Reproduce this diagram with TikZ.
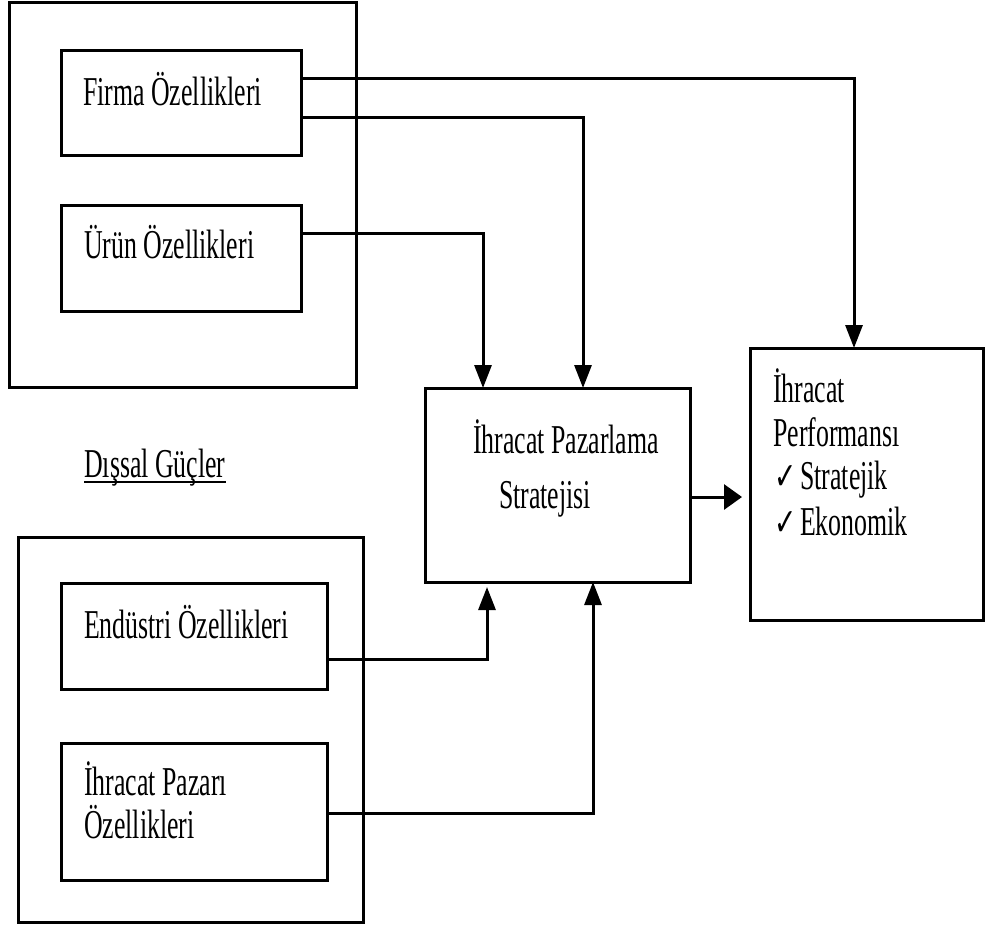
\documentclass[tikz,border=0pt]{standalone}
\usepackage{fontspec}
\setmainfont[FakeStretch=0.63]{Liberation Serif}
\newfontfamily\checkfont[FakeStretch=0.7]{DejaVu Sans}
\usetikzlibrary{arrows.meta}
\newcommand{\tick}{\makebox[26pt][l]{\checkfont\fontsize{38}{38}\selectfont ✓}}
\begin{document}
\begin{tikzpicture}[x=1pt,y=-1pt,
  frame/.style={draw, line width=3pt, rectangle, inner sep=0pt, outer sep=0pt, anchor=north west},
  txt/.style={anchor=base west, inner sep=0pt, font=\fontsize{41}{46}\selectfont},
  link/.style={line width=3pt},
  arr/.style={link, -{Triangle[length=23pt,width=17pt]}},
  sidearr/.style={link, -{Triangle[length=18pt,width=25pt]}},
]
\useasboundingbox (0,0) rectangle (985,927);

% internal factors
\node[frame, minimum width=347pt, minimum height=385pt] (intbox) at (9,2) {};
\node[frame, minimum width=240pt, minimum height=105pt] (firma) at (61,50) {};
\node[frame, minimum width=240pt, minimum height=106pt] (urun) at (61,205) {};
\node[txt] (firmaT) at (83,105) {Firma Özellikleri};
\node[txt] (urunT) at (84,258) {Ürün Özellikleri};

% external forces
\node[txt] (dis) at (84,477) {Dışsal Güçler};
\draw[line width=2.5pt] ([yshift=-5pt]dis.base west) -- ([yshift=-5pt]dis.base east);
\node[frame, minimum width=345pt, minimum height=385pt] (extbox) at (18,537) {};
\node[frame, minimum width=266pt, minimum height=106pt] (endus) at (61,583) {};
\node[frame, minimum width=266pt, minimum height=137pt] (pazar) at (61,743) {};
\node[txt] (endusT) at (84,638) {Endüstri Özellikleri};
\node[txt] (pazarT1) at (84,795) {İhracat Pazarı};
\node[txt] (pazarT2) at (84,838) {Özellikleri};

% strategy
\node[frame, minimum width=265pt, minimum height=194pt] (strat) at (425,388) {};
\node[txt] (stratT1) at (473,453) {İhracat Pazarlama};
\node[txt] (stratT2) at (499,508) {Stratejisi};

% performance
\node[frame, minimum width=233pt, minimum height=272pt] (perf) at (750,348) {};
\node[txt] (perfT1) at (773,402) {İhracat};
\node[txt] (perfT2) at (773,446) {Performansı};
\node[txt] (perfT3) at (774,489) {\tick Stratejik};
\node[txt] (perfT4) at (774,535) {\tick Ekonomik};

% connectors
\draw[arr] (firma.east |- 0,78) -| (perf.north -| 854,0);
\draw[arr] (firma.east |- 0,117) -| (strat.north -| 583,0);
\draw[arr] (urun.east |- 0,233) -| (strat.north -| 483,0);
\draw[arr, shorten >=5pt] (endus.east |- 0,659) -| (strat.south -| 487,0);
\draw[arr] (pazar.east |- 0,813) -| (strat.south -| 593,0);
\draw[sidearr, shorten >=8pt] (strat.east |- 0,497) -- (perf.west |- 0,497);
\end{tikzpicture}
\end{document}
